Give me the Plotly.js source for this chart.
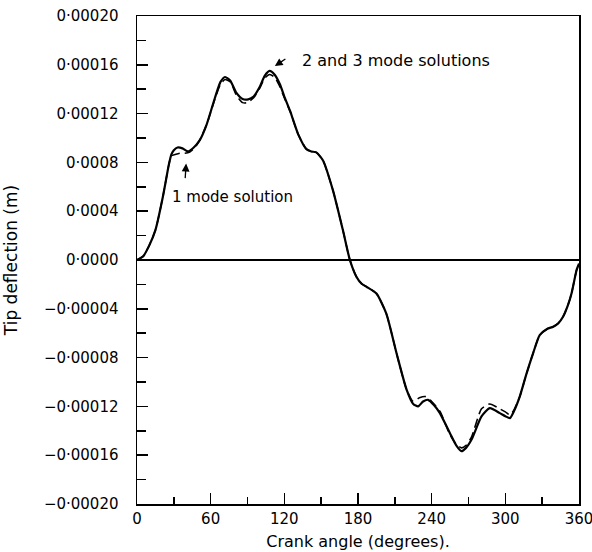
<!DOCTYPE html>
<html>
<head>
<meta charset="utf-8">
<script src="https://cdn.plot.ly/plotly-3.0.1.min.js"></script>
<style>html,body{margin:0;padding:0;background:#fff;}#chart{width:592px;height:552px;}</style>
</head>
<body>
<div id="chart"></div>
<script>
// Crank angle (degrees) and tip deflection (m): 2 and 3 mode solutions (solid)
var multiModeAngle = [0, 5, 10, 15, 21, 26, 28, 30, 33, 37, 41.5, 46, 51, 56.7, 63.5, 68, 71.7, 76, 81, 86, 90.6, 95, 100, 104, 108, 112, 116.4, 120, 124.6, 131.3, 138, 142, 146, 151.5, 159.6, 167.7, 173.4, 178.8, 183, 187, 195, 203, 211.4, 219.5, 225, 229, 233, 237, 242, 246.7, 254.8, 260, 264.3, 268, 272.5, 280.6, 287.4, 295.5, 300, 303.7, 307, 311.8, 317, 322.6, 328, 334, 339, 343, 347, 351, 353.9, 358, 360];
var multiModeTip = [0, 0.000003, 0.000012, 0.0000245, 0.0000514, 0.0000784, 0.0000866, 0.00009, 0.0000922, 0.0000915, 0.000089, 0.000092, 0.000098, 0.000111, 0.000133, 0.000146, 0.00015, 0.000147, 0.000137, 0.000132, 0.0001317, 0.000134, 0.000142, 0.000151, 0.000155, 0.000152, 0.000144, 0.000134, 0.0001224, 0.000103, 0.0000909, 0.000089, 0.0000882, 0.0000816, 0.0000571, 0.0000245, 0, -0.0000139, -0.0000195, -0.000022, -0.0000275, -0.0000438, -0.0000765, -0.000106, -0.000118, -0.00012, -0.000116, -0.0001146, -0.000119, -0.0001255, -0.0001418, -0.000152, -0.0001567, -0.000154, -0.0001472, -0.0001282, -0.0001214, -0.0001255, -0.000128, -0.0001296, -0.000124, -0.0001118, -0.000094, -0.0000765, -0.0000615, -0.0000565, -0.0000547, -0.000052, -0.0000465, -0.000037, -0.0000275, -0.0000084, -0.000003];

// 1 mode solution (dashed)
var oneModeAngle = [0, 5, 10, 15, 21, 26, 28, 31, 35, 39, 43, 47, 51, 56.7, 63.5, 68, 71.7, 76, 81, 86, 90, 95, 100, 104, 108, 112, 116.4, 120, 124.6, 131.3, 138, 142, 146, 151.5, 159.6, 167.7, 173.4, 178.8, 183, 187, 195, 203, 211.4, 219.5, 225, 230, 235, 240, 246.7, 254.8, 260, 264.3, 268, 272.5, 280.6, 287.4, 295.5, 300, 303.7, 307, 311.8, 317, 322.6, 328, 334, 339, 343, 347, 351, 353.9, 358, 360];
var oneModeTip = [0, 0.000003, 0.000012, 0.0000245, 0.0000514, 0.0000784, 0.0000855, 0.0000865, 0.0000875, 0.0000875, 0.0000885, 0.000092, 0.000098, 0.000111, 0.000132, 0.000144, 0.000148, 0.000146, 0.000135, 0.000129, 0.000129, 0.000133, 0.000141, 0.000149, 0.000152, 0.00015, 0.000142, 0.000133, 0.000122, 0.000103, 0.0000909, 0.000089, 0.0000882, 0.0000816, 0.0000571, 0.0000245, 0, -0.0000139, -0.0000195, -0.000022, -0.0000275, -0.0000438, -0.0000765, -0.000106, -0.000116, -0.000113, -0.000112, -0.000116, -0.000124, -0.000143, -0.000151, -0.000154, -0.000152, -0.000145, -0.000122, -0.000118, -0.000122, -0.0001245, -0.000127, -0.000123, -0.0001118, -0.000094, -0.0000765, -0.0000615, -0.0000565, -0.0000547, -0.000052, -0.0000465, -0.000037, -0.0000275, -0.0000084, -0.000003];

var xTickVals = [0, 60, 120, 180, 240, 300, 360];
var xTickText = ['0', '60', '120', '180', '240', '300', '360'];
var xMinorVals = [30, 90, 150, 210, 270, 330];
var yTickVals = [0.0002, 0.00016, 0.00012, 0.00008, 0.00004, 0, -0.00004, -0.00008, -0.00012, -0.00016, -0.0002];
var yTickText = ['0·00020', '0·00016', '0·00012', '0·0008', '0·0004', '0·0000', '−0·00004', '−0·00008', '−0·00012', '−0·00016', '−0·00020'];
var yMinorVals = [0.00018, 0.00014, 0.0001, 0.00006, 0.00002, -0.00002, -0.00006, -0.0001, -0.00014, -0.00018];

var font = 'DejaVu Sans, sans-serif';

var traces = [
  {x: oneModeAngle, y: oneModeTip, type: 'scatter', mode: 'lines',
   line: {color: '#000', width: 1.6, dash: '9px,5px', shape: 'spline', smoothing: 0.6},
   hoverinfo: 'none', showlegend: false},
  {x: multiModeAngle, y: multiModeTip, type: 'scatter', mode: 'lines',
   line: {color: '#000', width: 2.2, shape: 'spline', smoothing: 0.6},
   hoverinfo: 'none', showlegend: false}
];

var layout = {
  width: 592, height: 552,
  margin: {l: 137, r: 13, t: 16, b: 48},
  paper_bgcolor: '#fff', plot_bgcolor: '#fff',
  font: {family: font, color: '#000', size: 15},
  xaxis: {
    range: [0, 360], showgrid: false, zeroline: false,
    showline: true, linecolor: '#000', linewidth: 1.5, mirror: true,
    tickmode: 'array', tickvals: xTickVals, ticktext: xTickText,
    ticks: 'inside', ticklen: 11, tickwidth: 1.5, tickcolor: '#000',
    minor: {tickmode: 'array', tickvals: xMinorVals, ticks: 'inside', ticklen: 7, tickwidth: 1.5, tickcolor: '#000', showgrid: false},
    tickfont: {family: font, size: 15},
    ticklabeloverflow: 'allow',
    title: {text: 'Crank angle (degrees).', font: {family: font, size: 16}, standoff: 9}
  },
  yaxis: {
    range: [-0.0002, 0.0002], showgrid: false,
    zeroline: true, zerolinecolor: '#000', zerolinewidth: 1.5,
    showline: true, linecolor: '#000', linewidth: 1.5, mirror: true,
    tickmode: 'array', tickvals: yTickVals, ticktext: yTickText,
    ticks: 'inside', ticklen: 11, tickwidth: 1.5, tickcolor: '#000',
    minor: {tickmode: 'array', tickvals: yMinorVals, ticks: 'inside', ticklen: 9, tickwidth: 1.5, tickcolor: '#000', showgrid: false},
    tickfont: {family: font, size: 15},
    ticklabelstandoff: 14,
    title: {text: 'Tip deflection (m)', font: {family: font, size: 17}, standoff: 22}
  },
  annotations: [
    {x: 112.3, y: 0.000159, xref: 'x', yref: 'y', ax: 12, ay: -8,
     text: '', showarrow: true, arrowhead: 2, arrowsize: 1.2, arrowwidth: 1.3, arrowcolor: '#000'},
    {x: 133, y: 0.0001635, xref: 'x', yref: 'y', xanchor: 'left', yanchor: 'middle',
     text: '2 and 3 mode solutions', showarrow: false, font: {family: font, size: 16}},
    {x: 40, y: 0.000079, xref: 'x', yref: 'y', ax: -1, ay: 16,
     text: '', showarrow: true, arrowhead: 2, arrowsize: 1.2, arrowwidth: 1.3, arrowcolor: '#000'},
    {x: 26.5, y: 0.000052, xref: 'x', yref: 'y', xanchor: 'left', yanchor: 'middle',
     text: '1 mode solution', showarrow: false, font: {family: font, size: 15}}
  ]
};

Plotly.newPlot('chart', traces, layout, {staticPlot: true, displayModeBar: false});
</script>
</body>
</html>
